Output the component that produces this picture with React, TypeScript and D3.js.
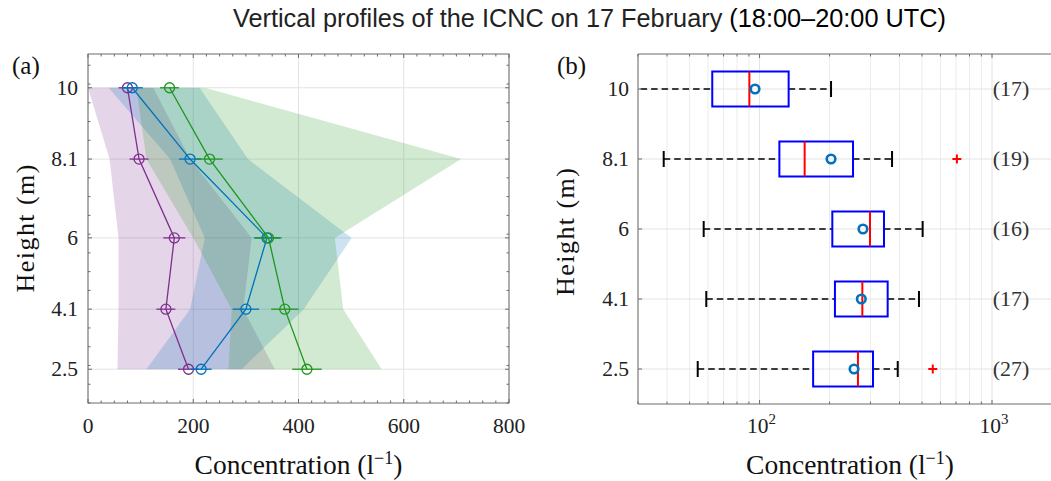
import React from "react";
import * as d3 from "d3";

// ---------- shared ----------
const heights = [10, 8.1, 6, 4.1, 2.5];
const heightLabels = ["10", "8.1", "6", "4.1", "2.5"];

// ---------- panel (a) ----------
const xTicksA = [0, 200, 400, 600, 800];

const purpleMean = [75, 97, 164, 148, 191];
const purpleErr = [17, 18, 21, 18, 20];
const purpleLo = [0, 41, 58, 58, 56];
const purpleHi = [124, 194, 311, 295, 355];

const blueMean = [84, 194, 340, 300, 215];
const blueErr = [20, 21, 25, 25, 20];
const blueLo = [39, 156, 222, 194, 111];
const blueHi = [212, 304, 501, 410, 292];

const greenMean = [155, 231, 343, 374, 416];
const greenErr = [18, 25, 25, 26, 28];
const greenLo = [92, 111, 200, 273, 267];
const greenHi = [222, 709, 469, 485, 558];

// ---------- panel (b) ----------
const boxWhiskerLo = [25, 38.7, 57.5, 59, 54.2];
const boxQ1 = [62.6, 121.7, 205.6, 211, 170];
const boxMedian = [90.4, 156.3, 298.6, 276.8, 265];
const boxMean = [95.6, 203, 278.5, 274, 255];
const boxQ3 = [133.4, 252.4, 343, 355.7, 307.6];
const boxWhiskerHi = [203, 371.5, 503, 485, 393];
const boxOutliers: number[][] = [[], [706], [], [], [556]];
const boxCounts = [17, 19, 16, 17, 27];
const xTicksB = [100, 1000];
const xTickExpB = ["2", "3"];

const W = 1051;
const H = 481;
const SERIF = "'Liberation Serif', 'DejaVu Serif', serif";
const SANS = "'Liberation Sans', Arial, Helvetica, sans-serif";
const AXIS = "#6b6b6b";
const GRID = "#e3e3e3";

export default function App() {
  // scales panel a
  const xA = d3.scaleLinear().domain([0, 800]).range([88, 509]);
  const yA = d3.scaleLinear().domain([1.6, 10.9]).range([403, 54]);
  const [ax0, ax1] = xA.range();
  const [ay0, ay1] = yA.range(); // bottom, top

  // scales panel b
  const xB = d3.scaleLog().domain([30, 2000]).range([638, 1062]);
  const yB = d3.scaleBand<string>().domain(heightLabels).range([54, 404]);
  const bw = yB.bandwidth();
  const yBc = (i: number) => (yB(heightLabels[i]) as number) + bw / 2;
  const [bx0, bx1] = xB.range();

  const series = [
    { color: "#7E2F8E", mean: purpleMean, err: purpleErr, lo: purpleLo, hi: purpleHi },
    { color: "#0072BD", mean: blueMean, err: blueErr, lo: blueLo, hi: blueHi },
    { color: "#1f961f", mean: greenMean, err: greenErr, lo: greenLo, hi: greenHi },
  ];

  const idx = heights.map((_, i) => i);

  const minorXA = d3.range(0, 801, 25).filter((v) => v % 200 !== 0);
  const minorYA = d3.range(1.6, 10.9, 0.5).filter((v) => !heights.some((h) => Math.abs(h - v) < 1e-6));

  const minorXB: number[] = [];
  [10, 100, 1000].forEach((dec) => {
    for (let k = 1; k <= 9; k++) {
      const v = dec * k;
      if (v >= 30 && v <= 2000 && k !== 1) minorXB.push(v);
    }
  });

  const lineGen = (s: typeof series[number]) =>
    d3
      .line<number>()
      .x((i) => xA(s.mean[i]))
      .y((i) => yA(heights[i]))(idx) as string;

  const areaGen = (s: typeof series[number]) =>
    d3
      .area<number>()
      .y((i) => yA(heights[i]))
      .x0((i) => xA(s.lo[i]))
      .x1((i) => xA(s.hi[i]))(idx) as string;

  return (
    <svg
      width={W}
      height={H}
      viewBox={`0 0 ${W} ${H}`}
      style={{ position: "absolute", left: 0, top: 0, background: "#fff" }}
    >
      <defs>
        <clipPath id="clipA">
          <rect x={ax0} y={ay1} width={ax1 - ax0} height={ay0 - ay1} />
        </clipPath>
        <clipPath id="clipB">
          <rect x={bx0} y={54} width={bx1 - bx0} height={350} />
        </clipPath>
      </defs>

      {/* Title */}
      <text x={233} y={27} fontFamily={SANS} fontSize={25.3} fill="#222">
        Vertical profiles of the ICNC on 17 February{" "}
        <tspan fill="#000">(18:00–20:00 UTC)</tspan>
      </text>

      {/* ================= Panel (a) ================= */}
      <rect x={ax0} y={ay1} width={ax1 - ax0} height={ay0 - ay1} fill="#fff" />
      {/* grid */}
      {xTicksA.map((v) => (
        <line key={"gxa" + v} x1={xA(v)} x2={xA(v)} y1={ay1} y2={ay0} stroke={GRID} strokeWidth={1} />
      ))}
      {heights.map((h) => (
        <line key={"gya" + h} x1={ax0} x2={ax1} y1={yA(h)} y2={yA(h)} stroke={GRID} strokeWidth={1} />
      ))}
      {/* envelopes */}
      <g clipPath="url(#clipA)">
        {series.map((s, k) => (
          <path key={"area" + k} d={areaGen(s)} fill={s.color} fillOpacity={0.2} stroke="none" />
        ))}
        {series.map((s, k) => (
          <g key={"ser" + k}>
            <path d={lineGen(s)} fill="none" stroke={s.color} strokeWidth={1.3} />
            {idx.map((i) => (
              <line
                key={"eb" + i}
                x1={xA(s.mean[i] - s.err[i])}
                x2={xA(s.mean[i] + s.err[i])}
                y1={yA(heights[i])}
                y2={yA(heights[i])}
                stroke={s.color}
                strokeWidth={1.3}
              />
            ))}
            {idx.map((i) => (
              <circle
                key={"mk" + i}
                cx={xA(s.mean[i])}
                cy={yA(heights[i])}
                r={5}
                fill="none"
                stroke={s.color}
                strokeWidth={1.3}
              />
            ))}
          </g>
        ))}
      </g>
      {/* axes box */}
      <rect x={ax0} y={ay1} width={ax1 - ax0} height={ay0 - ay1} fill="none" stroke={AXIS} strokeWidth={1} />
      {/* x ticks */}
      {xTicksA.map((v) => (
        <g key={"xta" + v}>
          <line x1={xA(v)} x2={xA(v)} y1={ay0} y2={ay0 - 4} stroke={AXIS} />
          <line x1={xA(v)} x2={xA(v)} y1={ay1} y2={ay1 + 4} stroke={AXIS} />
          <text x={xA(v)} y={433} textAnchor="middle" fontFamily={SERIF} fontSize={21.5} fill="#222">
            {v}
          </text>
        </g>
      ))}
      {minorXA.map((v) => (
        <g key={"mxa" + v}>
          <line x1={xA(v)} x2={xA(v)} y1={ay0} y2={ay0 - 2.5} stroke={AXIS} />
          <line x1={xA(v)} x2={xA(v)} y1={ay1} y2={ay1 + 2.5} stroke={AXIS} />
        </g>
      ))}
      {/* y ticks */}
      {heights.map((h, i) => (
        <g key={"yta" + h}>
          <line x1={ax0} x2={ax0 + 4} y1={yA(h)} y2={yA(h)} stroke={AXIS} />
          <line x1={ax1} x2={ax1 - 4} y1={yA(h)} y2={yA(h)} stroke={AXIS} />
          <text x={78} y={yA(h) + 7} textAnchor="end" fontFamily={SERIF} fontSize={21.5} fill="#222">
            {heightLabels[i]}
          </text>
        </g>
      ))}
      {minorYA.map((v) => (
        <g key={"mya" + v}>
          <line x1={ax0} x2={ax0 + 2.5} y1={yA(v)} y2={yA(v)} stroke={AXIS} />
          <line x1={ax1} x2={ax1 - 2.5} y1={yA(v)} y2={yA(v)} stroke={AXIS} />
        </g>
      ))}
      {/* labels */}
      <text
        x={0}
        y={0}
        transform={`translate(34, ${(ay0 + ay1) / 2}) rotate(-90)`}
        textAnchor="middle"
        fontFamily={SERIF}
        fontSize={26}
        fill="#111"
        textLength={128}
      >
        Height (m)
      </text>
      <text x={(ax0 + ax1) / 2} y={474} textAnchor="middle" fontFamily={SERIF} fontSize={27.5} fill="#111">
        Concentration (l
        <tspan dy={-10} fontSize={18}>
          −1
        </tspan>
        <tspan dy={10}>)</tspan>
      </text>
      <text x={12} y={74} fontFamily={SERIF} fontSize={25} fill="#111">
        (a)
      </text>

      {/* ================= Panel (b) ================= */}
      {/* grid */}
      {minorXB.map((v) => (
        <line key={"gmb" + v} x1={xB(v)} x2={xB(v)} y1={54} y2={404} stroke="#ececec" strokeWidth={1} />
      ))}
      {xTicksB.map((v) => (
        <line key={"gxb" + v} x1={xB(v)} x2={xB(v)} y1={54} y2={404} stroke={GRID} strokeWidth={1} />
      ))}
      {heightLabels.map((l, i) => (
        <line key={"gyb" + l} x1={bx0} x2={bx1} y1={yBc(i)} y2={yBc(i)} stroke={GRID} strokeWidth={1} />
      ))}
      <g clipPath="url(#clipB)">
        {heightLabels.map((l, i) => {
          const yc = yBc(i);
          const hb = bw * 0.25;
          return (
            <g key={"box" + l}>
              {/* whiskers */}
              <line
                x1={xB(boxWhiskerLo[i])}
                x2={xB(boxQ1[i])}
                y1={yc}
                y2={yc}
                stroke="#000"
                strokeWidth={1.7}
                strokeDasharray="6.5,4"
              />
              <line
                x1={xB(boxQ3[i])}
                x2={xB(boxWhiskerHi[i])}
                y1={yc}
                y2={yc}
                stroke="#000"
                strokeWidth={1.7}
                strokeDasharray="6.5,4"
              />
              <line x1={xB(boxWhiskerLo[i])} x2={xB(boxWhiskerLo[i])} y1={yc - 8} y2={yc + 8} stroke="#000" strokeWidth={2} />
              <line x1={xB(boxWhiskerHi[i])} x2={xB(boxWhiskerHi[i])} y1={yc - 8} y2={yc + 8} stroke="#000" strokeWidth={2} />
              {/* box */}
              <rect
                x={xB(boxQ1[i])}
                y={yc - hb}
                width={xB(boxQ3[i]) - xB(boxQ1[i])}
                height={2 * hb}
                fill="none"
                stroke="#0000ff"
                strokeWidth={2}
              />
              <line x1={xB(boxMedian[i])} x2={xB(boxMedian[i])} y1={yc - hb} y2={yc + hb} stroke="#ff0000" strokeWidth={2} />
              <circle cx={xB(boxMean[i])} cy={yc} r={4.3} fill="none" stroke="#0072BD" strokeWidth={2.6} />
              {boxOutliers[i].map((o, j) => (
                <g key={"o" + j}>
                  <line x1={xB(o) - 4.5} x2={xB(o) + 4.5} y1={yc} y2={yc} stroke="#ff0000" strokeWidth={2} />
                  <line x1={xB(o)} x2={xB(o)} y1={yc - 4.5} y2={yc + 4.5} stroke="#ff0000" strokeWidth={2} />
                </g>
              ))}
              <text x={1011} y={yc + 7} textAnchor="middle" fontFamily={SERIF} fontSize={22} fill="#333">
                ({boxCounts[i]})
              </text>
            </g>
          );
        })}
      </g>
      {/* axes */}
      <line x1={bx0} x2={bx1} y1={404} y2={404} stroke={AXIS} />
      <line x1={bx0} x2={bx1} y1={54} y2={54} stroke={AXIS} />
      <line x1={bx0} x2={bx0} y1={54} y2={404} stroke={AXIS} />
      <line x1={bx1} x2={bx1} y1={54} y2={404} stroke={AXIS} />
      {minorXB.map((v) => (
        <g key={"mtb" + v}>
          <line x1={xB(v)} x2={xB(v)} y1={404} y2={401.5} stroke={AXIS} />
          <line x1={xB(v)} x2={xB(v)} y1={54} y2={56.5} stroke={AXIS} />
        </g>
      ))}
      {xTicksB.map((v, i) => (
        <g key={"xtb" + v}>
          <line x1={xB(v)} x2={xB(v)} y1={404} y2={400} stroke={AXIS} />
          <line x1={xB(v)} x2={xB(v)} y1={54} y2={58} stroke={AXIS} />
          <text x={xB(v) + 2} y={433} textAnchor="middle" fontFamily={SERIF} fontSize={21.5} fill="#222">
            10
            <tspan dy={-9} fontSize={15}>
              {xTickExpB[i]}
            </tspan>
          </text>
        </g>
      ))}
      {heightLabels.map((l, i) => (
        <g key={"ytb" + l}>
          <line x1={bx0} x2={bx0 + 4} y1={yBc(i)} y2={yBc(i)} stroke={AXIS} />
          <text x={629} y={yBc(i) + 7} textAnchor="end" fontFamily={SERIF} fontSize={21.5} fill="#222">
            {l}
          </text>
        </g>
      ))}
      <text
        x={0}
        y={0}
        transform={`translate(574, 232) rotate(-90)`}
        textAnchor="middle"
        fontFamily={SERIF}
        fontSize={26}
        fill="#111"
        textLength={128}
      >
        Height (m)
      </text>
      <text x={850} y={474} textAnchor="middle" fontFamily={SERIF} fontSize={27.5} fill="#111">
        Concentration (l
        <tspan dy={-10} fontSize={18}>
          −1
        </tspan>
        <tspan dy={10}>)</tspan>
      </text>
      <text x={557} y={74} fontFamily={SERIF} fontSize={25} fill="#111">
        (b)
      </text>
    </svg>
  );
}
